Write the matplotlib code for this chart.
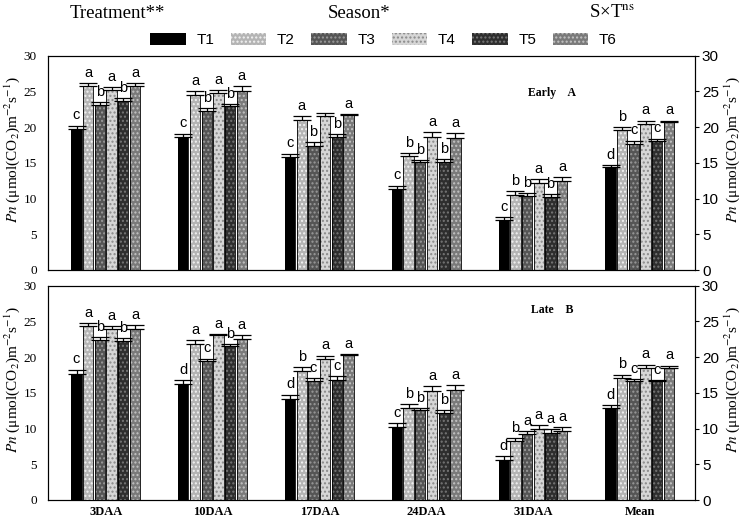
import matplotlib
matplotlib.use("Agg")
import matplotlib.pyplot as plt
import numpy as np

plt.rcParams['mathtext.fontset'] = 'stix'

categories = ["3DAA", "10DAA", "17DAA", "24DAA", "31DAA", "Mean"]
treatments = ["T1", "T2", "T3", "T4", "T5", "T6"]

# Early season (panel A)
early_T1 = [19.7, 18.6, 15.8, 11.3, 7.0, 14.4]
early_T2 = [25.7, 24.5, 21.0, 15.9, 10.5, 19.6]
early_T3 = [23.1, 22.3, 17.4, 15.1, 10.4, 17.7]
early_T4 = [25.2, 24.8, 21.6, 18.6, 12.2, 20.5]
early_T5 = [23.6, 22.9, 18.6, 15.1, 10.2, 18.1]
early_T6 = [25.7, 25.1, 21.7, 18.5, 12.5, 20.7]
early_err_T1 = [0.5, 0.5, 0.5, 0.5, 0.4, 0.3]
early_err_T2 = [0.45, 0.5, 0.55, 0.5, 0.55, 0.45]
early_err_T3 = [0.4, 0.35, 0.45, 0.25, 0.4, 0.4]
early_err_T4 = [0.4, 0.35, 0.35, 0.7, 0.5, 0.4]
early_err_T5 = [0.45, 0.35, 0.4, 0.4, 0.45, 0.3]
early_err_T6 = [0.45, 0.6, 0.15, 0.7, 0.55, 0.2]
early_letters = [
    ["c", "a", "b", "a", "b", "a"],
    ["c", "a", "b", "a", "b", "a"],
    ["c", "a", "b", "", "b", "a"],
    ["c", "b", "b", "a", "b", "a"],
    ["c", "b", "b", "a", "b", "a"],
    ["d", "b", "c", "a", "c", "a"],
]

# Late season (panel B)
late_T1 = [17.7, 16.3, 14.2, 10.2, 5.6, 12.9]
late_T2 = [24.3, 21.8, 18.1, 12.9, 8.2, 17.1]
late_T3 = [22.4, 19.5, 16.7, 12.6, 9.2, 16.6]
late_T4 = [23.9, 23.1, 19.8, 15.2, 10.0, 18.5]
late_T5 = [22.2, 21.5, 16.8, 12.2, 9.4, 16.6]
late_T6 = [24.0, 22.6, 20.3, 15.4, 9.7, 18.5]
late_err_T1 = [0.55, 0.5, 0.55, 0.6, 0.5, 0.35]
late_err_T2 = [0.5, 0.55, 0.55, 0.5, 0.45, 0.45]
late_err_T3 = [0.4, 0.3, 0.35, 0.25, 0.45, 0.35]
late_err_T4 = [0.4, 0.15, 0.4, 0.7, 0.5, 0.45]
late_err_T5 = [0.45, 0.35, 0.55, 0.4, 0.5, 0.15]
late_err_T6 = [0.5, 0.5, 0.1, 0.65, 0.55, 0.3]
late_letters = [
    ["c", "a", "b", "a", "b", "a"],
    ["d", "a", "c", "a", "b", "a"],
    ["d", "b", "c", "a", "c", "a"],
    ["c", "b", "b", "a", "b", "a"],
    ["d", "b", "a", "a", "a", "a"],
    ["d", "b", "c", "a", "c", "a"],
]

yticks = [0, 5, 10, 15, 20, 25, 30]

face_colors = ["#000000", "#b4b4b4", "#555555", "#d6d6d6", "#2e2e2e", "#7a7a7a"]
hatch_colors = ["#000000", "#f2f2f2", "#9a9a9a", "#8a8a8a", "#777777", "#c4c4c4"]
hatches = [None, "....", "....", "....", "....", "...."]

serif = ["Liberation Serif", "DejaVu Serif"]
sans = ["Liberation Sans", "DejaVu Sans"]
ylabel = r"$\it{Pn}$ (μmol(CO$_2$)m$^{-2}$s$^{-1}$)"

fig = plt.figure(figsize=(7.41, 5.17), dpi=100)
W, H = 741, 517
left, right = 48, 695
axA = fig.add_axes([left / W, 1 - 270 / H, (right - left) / W, (270 - 55.7) / H])
axB = fig.add_axes([left / W, 1 - 500 / H, (right - left) / W, (500 - 285.7) / H])

slot = 0.1096
bw = 0.0964
x = np.arange(len(categories))


def draw(ax, vals, errs, letters, show_x):
    handles = []
    for j in range(6):
        xs = x + (j - 2.5) * slot
        b = ax.bar(xs, vals[j], width=bw, color=face_colors[j],
                   edgecolor=hatch_colors[j], hatch=hatches[j], linewidth=0,
                   zorder=2, label=treatments[j])
        ax.bar(xs, vals[j], width=bw, fill=False, edgecolor="black",
               linewidth=0.6, zorder=3)
        ax.errorbar(xs, vals[j], yerr=[np.zeros(len(x)), errs[j]], fmt="none",
                    ecolor="black", elinewidth=0.9, capsize=6.5, capthick=0.9,
                    zorder=4)
        for i in range(len(x)):
            t = letters[i][j]
            if t:
                ax.text(xs[i], vals[j][i] + errs[j][i] + 0.45, t, ha="center",
                        va="bottom", fontsize=10.5, family=sans)
        handles.append(b)
    ax.set_xlim(-0.541, 5.517)
    ax.set_ylim(0, 30)
    ax.set_yticks(yticks)
    ax.set_yticklabels([str(v) for v in yticks], family=serif, fontsize=9.5)
    ax.tick_params(axis="y", length=0, pad=8)
    ax.set_xticks(x)
    if show_x:
        ax.set_xticklabels(categories, family=serif, fontweight="bold", fontsize=9)
    else:
        ax.set_xticklabels([])
    ax.tick_params(axis="x", length=0, pad=4)
    for s in ax.spines.values():
        s.set_linewidth(0.8)
    ax.set_ylabel(ylabel, family=serif, fontsize=11)
    ax.yaxis.set_label_coords(-0.040, 0.56)
    ax2 = ax.twinx()
    ax2.set_ylim(0, 30)
    ax2.set_yticks(yticks)
    ax2.set_yticklabels([str(v) for v in yticks], family=sans, fontsize=11)
    ax2.tick_params(axis="y", direction="out", length=3, pad=2, width=0.8)
    ax2.set_ylabel(ylabel, family=serif, fontsize=11)
    ax2.yaxis.set_label_coords(1.043, 0.56)
    for s in ax2.spines.values():
        s.set_linewidth(0.8)
    return handles


hA = draw(axA, [early_T1, early_T2, early_T3, early_T4, early_T5, early_T6],
          [early_err_T1, early_err_T2, early_err_T3, early_err_T4, early_err_T5, early_err_T6],
          early_letters, False)
axA.text(0.779, 0.826, "Early    A", transform=axA.transAxes, ha="center",
         va="center", family=serif, fontweight="bold", fontsize=8.5)
draw(axB, [late_T1, late_T2, late_T3, late_T4, late_T5, late_T6],
     [late_err_T1, late_err_T2, late_err_T3, late_err_T4, late_err_T5, late_err_T6],
     late_letters, True)
axB.text(0.779, 0.887, "Late    B", transform=axB.transAxes, ha="center",
         va="center", family=serif, fontweight="bold", fontsize=8.5)

fig.legend(hA, treatments, loc="center", bbox_to_anchor=(383.5 / W, 1 - 40 / H),
           ncol=6, frameon=False, prop={"family": sans, "size": 11},
           handlelength=2.3, handleheight=0.8, columnspacing=1.1, handletextpad=0.7)

fig.text(117 / W, 1 - 13 / H, "Treatment**", ha="center", va="center",
         family=serif, fontsize=13.5)
fig.text(359 / W, 1 - 13 / H, "Season*", ha="center", va="center",
         family=serif, fontsize=13.5)
fig.text(589 / W, 1 - 13 / H, r"S×T$^{\mathrm{ns}}$", ha="left", va="center",
         family=serif, fontsize=13.5)

fig.savefig("out.png", dpi=100)
